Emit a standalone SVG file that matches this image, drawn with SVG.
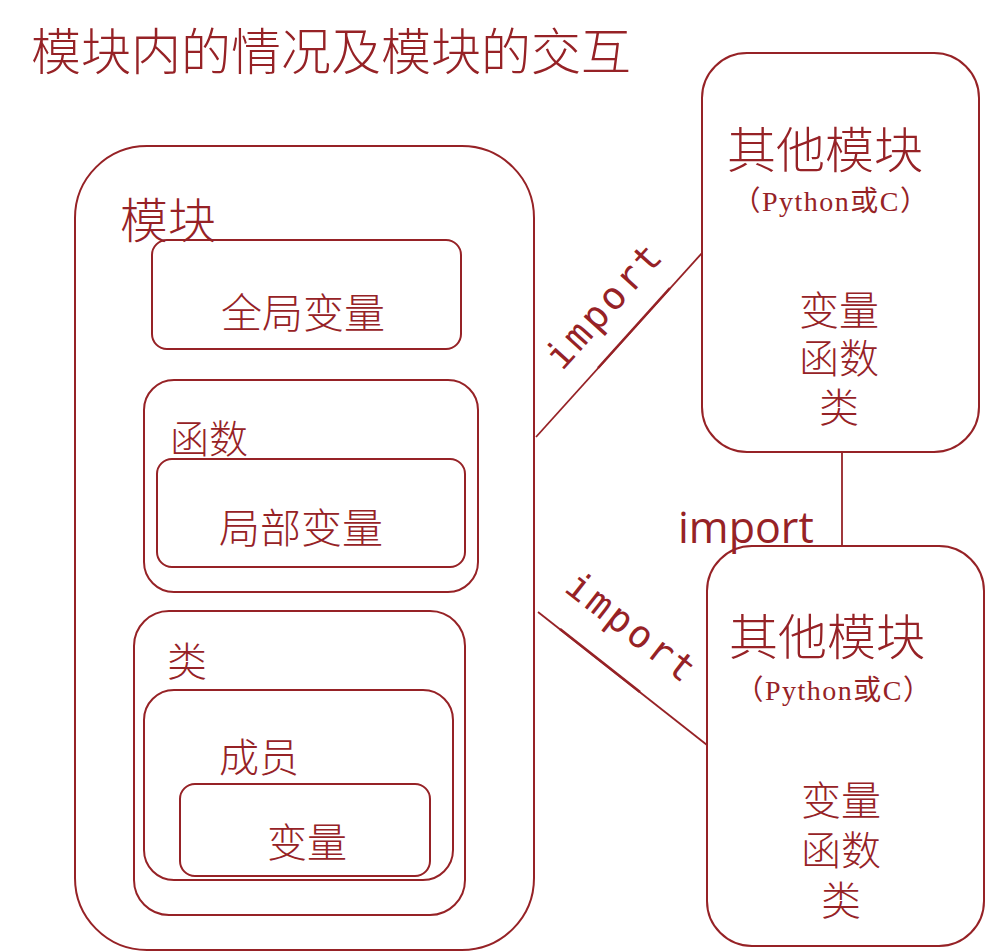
<svg xmlns="http://www.w3.org/2000/svg" width="985" height="952" viewBox="0 0 985 952">
<style>
.b{fill:none;stroke:#962226;stroke-width:2}
.c{fill:#962226;font-family:"Noto Sans CJK SC","Noto Sans CJK JP",sans-serif;font-weight:300}
.s{fill:#962226;font-family:"Liberation Serif","Noto Sans CJK SC",serif;font-size:28px;letter-spacing:1.5px}
.m{fill:#962226;font-family:"DejaVu Sans Mono",monospace;font-size:38px;letter-spacing:3px}
.l{stroke:#962226;stroke-width:1.8;fill:none}
</style>
<rect width="985" height="952" fill="#fff"/>
<text class="c" x="31" y="70" font-size="50">模块内的情况及模块的交互</text>
<g id="module">
<rect class="b" x="75" y="146" width="459" height="804" rx="72"/>
<text class="c" x="120" y="238" font-size="48">模块</text>
</g>
<g id="globals">
<rect class="b" x="152" y="240" width="309" height="109" rx="15"/>
<text class="c" x="303" y="328" font-size="41" text-anchor="middle">全局变量</text>
</g>
<g id="func">
<rect class="b" x="144" y="380" width="334" height="212" rx="30"/>
<text class="c" x="170" y="453" font-size="39">函数</text>
</g>
<g id="locals">
<rect class="b" x="157" y="459" width="308" height="108" rx="15"/>
<text class="c" x="301" y="543" font-size="41" text-anchor="middle">局部变量</text>
</g>
<g id="cls">
<rect class="b" x="134" y="611" width="331" height="304" rx="35"/>
<text class="c" x="167" y="676" font-size="40">类</text>
</g>
<g id="members">
<rect class="b" x="144" y="690" width="309" height="190" rx="30"/>
<text class="c" x="219" y="772" font-size="40">成员</text>
</g>
<g id="memvars">
<rect class="b" x="180" y="784" width="250" height="92" rx="15"/>
<text class="c" x="307" y="857" font-size="40" text-anchor="middle">变量</text>
</g>
<g id="other1">
<rect class="b" x="702" y="53" width="277" height="399" rx="45"/>
<text class="c" x="825" y="168" font-size="49" text-anchor="middle">其他模块</text>
<text class="s" x="831" y="211" text-anchor="middle">（Python或C）</text>
<text class="c" x="839" y="325" font-size="40" text-anchor="middle">变量</text>
<text class="c" x="839" y="373" font-size="40" text-anchor="middle">函数</text>
<text class="c" x="839" y="422" font-size="40" text-anchor="middle">类</text>
</g>
<g id="other2">
<rect class="b" x="707" y="546" width="277" height="400" rx="45"/>
<text class="c" x="827" y="655" font-size="49" text-anchor="middle">其他模块</text>
<text class="s" x="834" y="700" text-anchor="middle">（Python或C）</text>
<text class="c" x="841" y="815" font-size="40" text-anchor="middle">变量</text>
<text class="c" x="841" y="865" font-size="40" text-anchor="middle">函数</text>
<text class="c" x="841" y="915" font-size="40" text-anchor="middle">类</text>
</g>
<g id="connectors">
<line class="l" x1="536" y1="437" x2="702" y2="253"/>
<line x1="598" y1="368" x2="670" y2="288" stroke="#962226" stroke-width="2.6"/>
<text class="m" transform="translate(614,314) rotate(-48)" text-anchor="middle">import</text>
<line class="l" x1="538" y1="612" x2="707" y2="745"/>
<line x1="560" y1="629" x2="640" y2="692" stroke="#962226" stroke-width="2.6"/>
<text class="m" transform="translate(624,638) rotate(38)" text-anchor="middle">import</text>
<line class="l" x1="842" y1="453" x2="842" y2="545"/>
<text x="678" y="543" fill="#962226" font-family="Open Sans, sans-serif" font-size="43">import</text>
</g>
</svg>
